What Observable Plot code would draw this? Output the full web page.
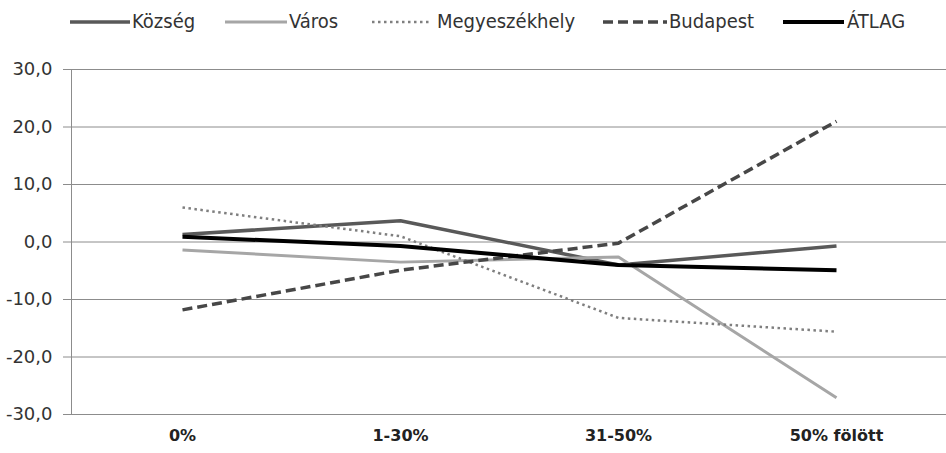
<!DOCTYPE html>
<html>
<head>
<meta charset="utf-8">
<script src="https://cdn.jsdelivr.net/npm/d3@7"></script>
<script src="https://cdn.jsdelivr.net/npm/@observablehq/plot@0.6"></script>
<style>
  body { margin: 0; background: #fff; width: 946px; height: 453px; overflow: hidden; }
  #legend { position: relative; height: 45px;
            font-family: "DejaVu Sans Condensed", "DejaVu Sans", sans-serif; font-size: 20px; color: #333; }
  .sw { position: absolute; top: 17px; }
  .lt { position: absolute; top: 9px; line-height: 24px; white-space: nowrap; }
</style>
</head>
<body>
<div id="legend"></div>
<div id="chart"></div>
<script>
const categories = ["0%", "1-30%", "31-50%", "50% fölött"];
const seriesNames = ["Község", "Város", "Megyeszékhely", "Budapest", "ÁTLAG"];
const kozseg = [1.3, 3.7, -4.0, -0.7];
const varos = [-1.4, -3.5, -2.6, -27.1];
const megyeszekhely = [6.0, 1.0, -13.2, -15.6];
const budapest = [-11.8, -4.9, -0.2, 21.0];
const atlag = [0.9, -0.7, -4.0, -4.9];
const yTicks = [-30, -20, -10, 0, 10, 20, 30];

const values = [kozseg, varos, megyeszekhely, budapest, atlag];
const styles = {
  "Község": {stroke: "#595959", strokeWidth: 3.5, dash: null},
  "Város": {stroke: "#a6a6a6", strokeWidth: 3, dash: null},
  "Megyeszékhely": {stroke: "#7f7f7f", strokeWidth: 2.5, dash: "2.5 3.5"},
  "Budapest": {stroke: "#474747", strokeWidth: 3.5, dash: "10 5"},
  "ÁTLAG": {stroke: "#000000", strokeWidth: 4, dash: null}
};
// legend layout (swatch start, swatch end, text start)
const legendLayout = {
  "Község": [70, 130, 132],
  "Város": [225, 287, 289],
  "Megyeszékhely": [372, 430, 437],
  "Budapest": [603, 667, 669],
  "ÁTLAG": [783, 844, 847]
};
const data = seriesNames.flatMap((s, i) => categories.map((c, j) => ({series: s, cat: c, value: values[i][j]})));

// legend
const legend = document.getElementById("legend");
seriesNames.forEach(s => {
  const st = styles[s];
  const [a, b, t] = legendLayout[s];
  const sw = document.createElement("div");
  sw.className = "sw";
  sw.style.left = a + "px";
  sw.innerHTML = `<svg width="${b - a}" height="10" style="display:block"><line x1="0" x2="${b - a}" y1="5" y2="5" stroke="${st.stroke}" stroke-width="${st.strokeWidth}" ${st.dash ? `stroke-dasharray="${st.dash}"` : ""}/></svg>`;
  legend.appendChild(sw);
  const lt = document.createElement("div");
  lt.className = "lt";
  lt.style.left = t + "px";
  lt.textContent = s;
  legend.appendChild(lt);
});

const fmt = d => d.toFixed(1).replace(".", ",");

const lineMarks = seriesNames.map(s => Plot.line(data.filter(d => d.series === s), {
  x: "cat", y: "value",
  stroke: styles[s].stroke, strokeWidth: styles[s].strokeWidth,
  strokeDasharray: styles[s].dash || undefined,
  strokeLinecap: "butt", strokeLinejoin: "miter"
}));

const chart = Plot.plot({
  width: 946,
  height: 408,
  marginLeft: 71,
  marginRight: 0,
  marginTop: 24,
  marginBottom: 39,
  style: {fontFamily: "DejaVu Sans, sans-serif", background: "#fff"},
  x: {type: "point", domain: categories, padding: 0.5, label: null},
  y: {domain: [-30, 30], label: null},
  marks: [
    Plot.ruleY(yTicks, {stroke: "#8c8c8c", strokeWidth: 1}),
    Plot.axisY({ticks: yTicks, tickFormat: fmt, tickSize: 8, tickPadding: 11, fontSize: 18, stroke: "#8c8c8c", fill: "#333", label: null}),
    Plot.frame({anchor: "left", stroke: "#8c8c8c"}),
    Plot.axisX({tickSize: 0, tickPadding: 15, fontSize: 16, fontWeight: "bold", fill: "#222", label: null}),
    ...lineMarks
  ]
});
document.getElementById("chart").appendChild(chart);
</script>
</body>
</html>
